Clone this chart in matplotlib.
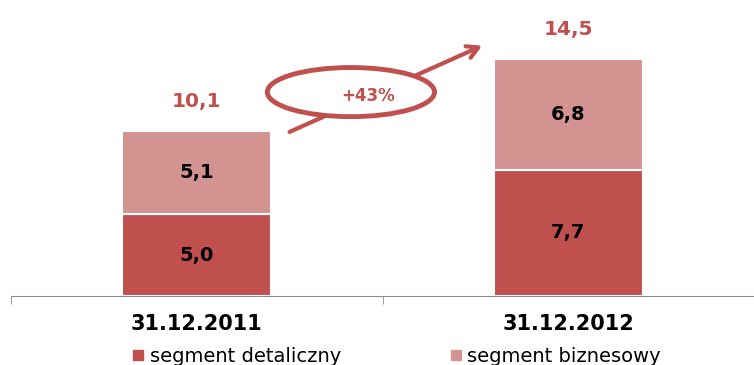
import matplotlib
matplotlib.use("Agg")
import matplotlib.pyplot as plt
from matplotlib.patches import Ellipse
from matplotlib.lines import Line2D

# Segment volumes at year end
categories = ["31.12.2011", "31.12.2012"]
retail = [5.0, 7.7]      # segment detaliczny
business = [5.1, 6.8]    # segment biznesowy
totals = [10.1, 14.5]
growth_label = "+43%"

RED = "#C0504D"
PINK = "#D39391"


def pl(v):
    return f"{v:.1f}".replace(".", ",")


fig = plt.figure(figsize=(7.54, 3.65), dpi=100)
ax = fig.add_axes([0.0146, 0.189, 0.9854, 0.718])

x = list(range(len(categories)))
w = 0.4
ax.bar(x, retail, w, color=RED, edgecolor="white", linewidth=1.5, zorder=2)
ax.bar(x, business, w, bottom=retail, color=PINK, edgecolor="white",
       linewidth=1.5, zorder=2)

for i in x:
    ax.text(i, retail[i] / 2, pl(retail[i]), ha="center", va="center",
            fontsize=14, fontweight="bold", color="black")
    ax.text(i, retail[i] + business[i] / 2, pl(business[i]), ha="center",
            va="center", fontsize=14, fontweight="bold", color="black")
    ax.annotate(pl(totals[i]), (i, totals[i]), xytext=(0, 21),
                textcoords="offset points", ha="center", va="center",
                fontsize=14.5, fontweight="bold", color=RED,
                annotation_clip=False)

# growth arrow with the ellipse badge
ax.annotate("", xy=(0.775, 15.35), xytext=(0.243, 9.95),
            arrowprops=dict(arrowstyle="->,head_length=0.8,head_width=0.45",
                            color=RED, lw=3, capstyle="round"),
            annotation_clip=False, zorder=3)
ell = Ellipse((0.415, 12.45), 0.45, 3.0, facecolor="white", edgecolor=RED,
              lw=3.5, zorder=4, clip_on=False)
ax.add_patch(ell)
ax.text(0.46, 12.2, growth_label, ha="center", va="center", fontsize=12,
        fontweight="bold", color=RED, zorder=5)

ax.set_xlim(-0.5, 1.5)
ax.set_ylim(0, 16)
for s in ["top", "right", "left"]:
    ax.spines[s].set_visible(False)
ax.spines["bottom"].set_color("#8c8c8c")
ax.set_yticks([])
ax.set_xticks(x)
ax.set_xticklabels(categories, fontsize=15, fontweight="bold")
ax.tick_params(axis="x", which="major", length=0, pad=13)
ax.set_xticks([-0.5, 0.5, 1.5], minor=True)
ax.tick_params(axis="x", which="minor", length=6, color="#8c8c8c", direction="out")

handles = [
    Line2D([], [], marker="s", linestyle="none", color=RED, markersize=7),
    Line2D([], [], marker="s", linestyle="none", color=PINK, markersize=7),
]
fig.legend(handles, ["segment detaliczny", "segment biznesowy"],
           loc="center", bbox_to_anchor=(0.526, 0.024), ncol=2, frameon=False,
           fontsize=14, handlelength=0.6, handletextpad=0.3,
           columnspacing=5.6)

fig.savefig("out.png", dpi=100)
